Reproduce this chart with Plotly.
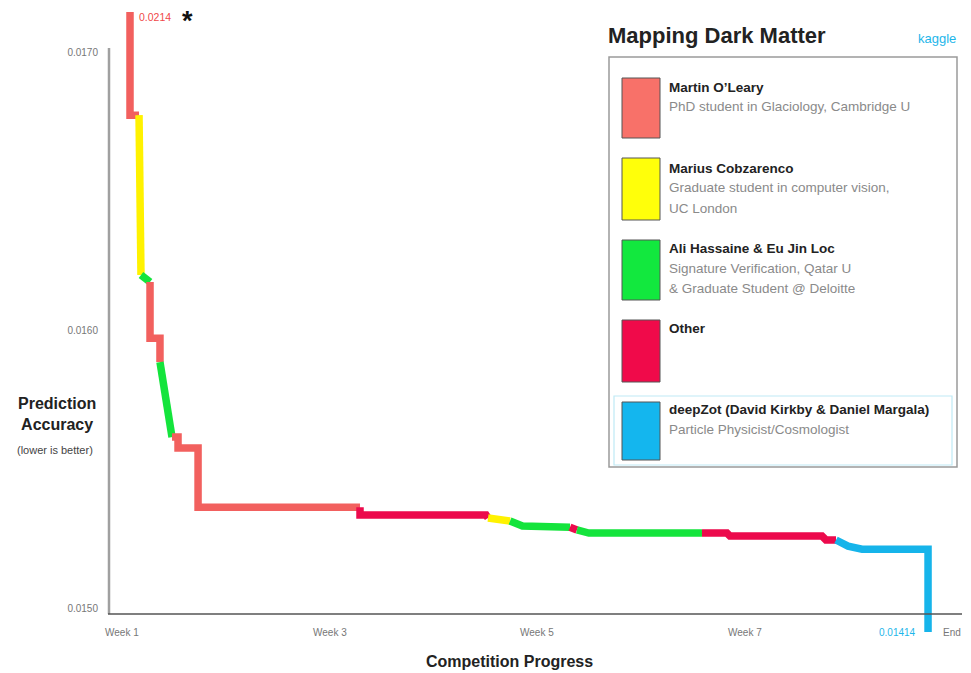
import plotly.graph_objects as go

# ---- leaderboard data: best public score over the competition (weeks) ----
# leader[i] is who held the top spot on the segment from point i to point i+1
weeks = [1.077, 1.077, 1.164, 1.183, 1.270, 1.270, 1.366, 1.366, 1.482, 1.540,
         1.540, 1.733, 1.733, 3.294, 3.294, 4.509, 4.528, 4.740, 4.860, 5.318,
         5.385, 5.500, 6.590, 6.831, 6.860, 7.747, 7.785, 7.882, 7.998, 8.133,
         8.769, 8.769]
scores = [0.0214, 0.016773, 0.016773, 0.016198, 0.016173, 0.015971, 0.015971,
          0.015885, 0.015615, 0.015615, 0.015576, 0.015576, 0.015363, 0.015363,
          0.015335, 0.015335, 0.015324, 0.015313, 0.015295, 0.015291, 0.015281,
          0.015270, 0.015270, 0.015270, 0.015259, 0.015259, 0.015245, 0.015245,
          0.015223, 0.015212, 0.015212, 0.01414]
leader = ["M", "M", "Y", "A", "M", "M", "M", "A", "M", "M",
          "M", "M", "M", "O", "O", "O", "Y", "A", "A", "O",
          "A", "A", "O", "O", "O", "O", "O", "B", "B", "B",
          "B", "B"]

# legend entries
team_keys = ["M", "Y", "A", "O", "B"]
team_names = ["Martin O’Leary", "Marius Cobzarenco", "Ali Hassaine & Eu Jin Loc",
              "Other", "deepZot (David Kirkby & Daniel Margala)"]
team_desc = [["PhD student in Glaciology, Cambridge U"],
             ["Graduate student in computer vision,", "UC London"],
             ["Signature Verification, Qatar U", "& Graduate Student @ Deloitte"],
             [],
             ["Particle Physicist/Cosmologist"]]
line_colors = {"M": "#F2605E", "Y": "#FFF200", "A": "#14E43C", "O": "#EC0A4C", "B": "#16B4EA"}
swatch_colors = ["#F87169", "#FFFF0A", "#12E83E", "#F00A4A", "#14B6EE"]

# axis ticks
y_ticks = [0.0150, 0.0160, 0.0170]
y_ticktext = ["0.0150", "0.0160", "0.0170"]
x_ticks = [1, 3, 5, 7, 9]
x_ticktext = ["Week 1", "Week 3", "Week 5", "Week 7", "End"]

start_label = "0.0214"
final_label = "0.01414"

# ---- layout geometry ----
W, H = 971, 673
ML, MR, MT, MB = 108, 11, 12, 41
PW, PH = W - ML - MR, H - MT - MB
X_RANGE = [0.865, 9.077]
Y_RANGE = [0.014914, 0.017144]
FONT = "Liberation Sans"


def px(x):
    return (x - ML) / PW


def py(y):
    return (H - MB - y) / PH


fig = go.Figure()

# one trace per run of the same leader, joined end to start
i = 0
n = len(weeks)
while i < n - 1:
    j = i
    while j + 1 < n - 1 and leader[j + 1] == leader[i]:
        j += 1
    xs = weeks[i:j + 2]
    ys = scores[i:j + 2]
    fig.add_trace(go.Scatter(x=xs, y=ys, mode="lines",
                             line=dict(color=line_colors[leader[i]], width=7.5),
                             showlegend=False, hoverinfo="skip"))
    i = j + 1

shapes = []
# axis lines
shapes.append(dict(type="line", xref="paper", yref="paper", x0=px(109), x1=px(109),
                   y0=py(48), y1=py(614), line=dict(color="#A0A0A0", width=2.5)))
shapes.append(dict(type="line", xref="paper", yref="paper", x0=px(108), x1=px(962),
                   y0=py(614), y1=py(614), line=dict(color="#555555", width=1.5)))

# legend panel
shapes.append(dict(type="rect", xref="paper", yref="paper", x0=px(609), x1=px(957),
                   y0=py(57), y1=py(467), line=dict(color="#9A9A9A", width=1.5),
                   fillcolor="white", layer="below"))
shapes.append(dict(type="rect", xref="paper", yref="paper", x0=px(614), x1=px(952),
                   y0=py(396), y1=py(465), line=dict(color="#BFEAF5", width=1.2)))

swatch_top = [78, 158, 240, 320, 402]
swatch_bot = [138, 220, 300, 382, 460]
name_y = [88, 169, 249, 329, 410]

annotations = []
for k in range(len(team_keys)):
    shapes.append(dict(type="rect", xref="paper", yref="paper", x0=px(622), x1=px(660),
                       y0=py(swatch_top[k]), y1=py(swatch_bot[k]),
                       fillcolor=swatch_colors[k], line=dict(color="#555555", width=1)))
    annotations.append(dict(text="<b>" + team_names[k] + "</b>", xref="paper", yref="paper",
                            x=px(667), y=py(name_y[k]), xanchor="left", yanchor="middle",
                            showarrow=False, font=dict(family=FONT, size=13.5, color="#222222")))
    for m, d in enumerate(team_desc[k]):
        annotations.append(dict(text=d, xref="paper", yref="paper",
                                x=px(667), y=py(name_y[k] + 19 + 20 * m),
                                xanchor="left", yanchor="middle", showarrow=False,
                                font=dict(family=FONT, size=13.5, color="#8A8A8A")))

annotations.append(dict(text="<b>Mapping Dark Matter</b>", xref="paper", yref="paper",
                        x=px(606), y=py(35), xanchor="left", yanchor="middle", showarrow=False,
                        font=dict(family=FONT, size=22, color="#222222")))
annotations.append(dict(text="kaggle", xref="paper", yref="paper",
                        x=px(937), y=py(38), xanchor="center", yanchor="middle", showarrow=False,
                        font=dict(family=FONT, size=13, color="#1EB6EA")))

# x tick labels along the bottom rule
for xv, xt in zip(x_ticks, x_ticktext):
    annotations.append(dict(text=xt, xref="x", yref="paper", x=xv, y=py(632),
                            xanchor="center", yanchor="middle", showarrow=False,
                            font=dict(family=FONT, size=10, color="#777777")))

# score callouts at both ends of the curve
annotations.append(dict(text=start_label, xref="x", yref="paper", x=weeks[0], y=py(17),
                        xanchor="left", yanchor="middle", xshift=7, showarrow=False,
                        font=dict(family=FONT, size=10.5, color="#F04848")))
annotations.append(dict(text="<b>*</b>", xref="paper", yref="paper", x=px(187), y=py(21),
                        xanchor="center", yanchor="middle", showarrow=False,
                        font=dict(family=FONT, size=27, color="#111111")))
annotations.append(dict(text=final_label, xref="x", yref="paper", x=weeks[-1], y=py(632),
                        xanchor="right", yanchor="middle", xshift=-10, showarrow=False,
                        font=dict(family=FONT, size=10, color="#1EB6EA")))

# axis titles
annotations.append(dict(text="<b>Prediction<br>Accuracy</b>", xref="paper", yref="paper",
                        x=px(57), y=py(414), xanchor="center", yanchor="middle", showarrow=False,
                        font=dict(family=FONT, size=16, color="#222222")))
annotations.append(dict(text="(lower is better)", xref="paper", yref="paper",
                        x=px(55), y=py(450), xanchor="center", yanchor="middle", showarrow=False,
                        font=dict(family=FONT, size=11, color="#444444")))
annotations.append(dict(text="<b>Competition Progress</b>", xref="paper", yref="paper",
                        x=px(509), y=py(661), xanchor="center", yanchor="middle", showarrow=False,
                        font=dict(family=FONT, size=16, color="#222222")))

fig.update_layout(
    width=W, height=H,
    margin=dict(l=ML, r=MR, t=MT, b=MB),
    paper_bgcolor="white", plot_bgcolor="white",
    showlegend=False,
    xaxis=dict(range=X_RANGE, showgrid=False, zeroline=False, showline=False,
               showticklabels=False, ticks=""),
    yaxis=dict(range=Y_RANGE, showgrid=False, zeroline=False, showline=False,
               tickvals=y_ticks, ticktext=y_ticktext, ticks="outside", ticklen=7,
               tickcolor="rgba(0,0,0,0)",
               tickfont=dict(family=FONT, size=10, color="#777777")),
    shapes=shapes,
    annotations=annotations,
)

fig.write_html("out.html")
